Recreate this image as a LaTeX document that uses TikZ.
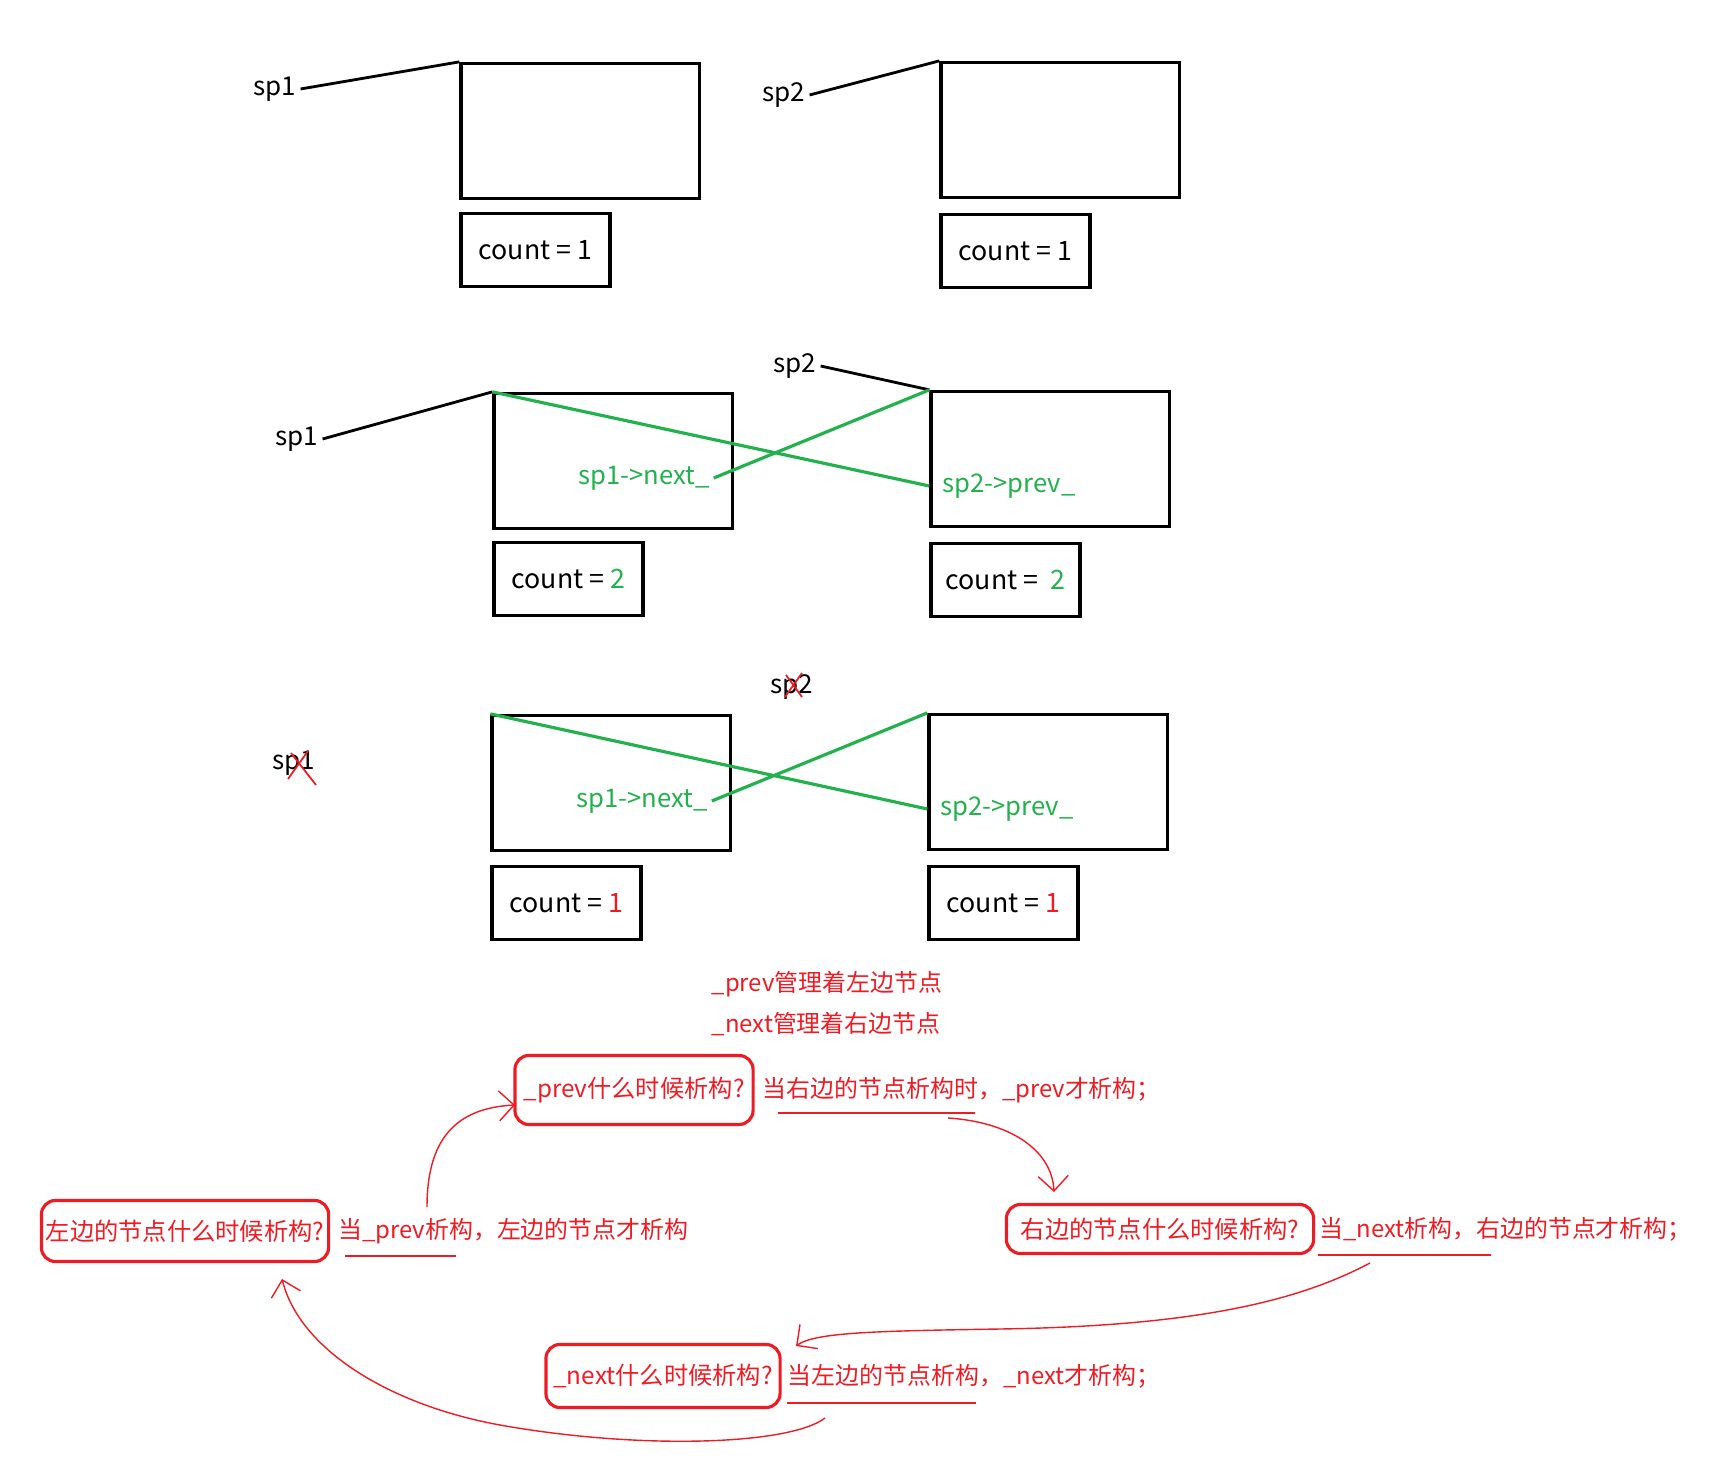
\documentclass[tikz,border=0pt]{standalone}
\usepackage{fontspec}
\setmainfont{Noto Sans CJK SC}
\usetikzlibrary{arrows.meta, positioning}
\definecolor{pgreen}{RGB}{34,177,76}
\definecolor{pred}{RGB}{237,28,36}

\begin{document}
\begin{tikzpicture}[x=0.01cm, y=-0.01cm,
  obj/.style={rectangle, draw=black, line width=0.9pt, minimum width=2.38cm, minimum height=1.35cm},
  cnt/.style={rectangle, draw=black, line width=0.9pt, minimum width=1.49cm, minimum height=0.73cm,
              font=\fontsize{7.6pt}{9pt}\selectfont},
  ptrname/.style={inner sep=1pt, font=\fontsize{7.4pt}{9pt}\selectfont},
  mem/.style={inner sep=1pt, text=pgreen, font=\fontsize{7.3pt}{9pt}\selectfont},
  ptr/.style={line width=0.8pt},
  link/.style={line width=0.9pt, pgreen},
  ques/.style={rectangle, rounded corners=0.14cm, draw=pred, line width=0.9pt, text=pred,
               inner sep=1pt, font=\fontsize{6.9pt}{9pt}\selectfont},
  ans/.style={inner sep=1pt, text=pred, font=\fontsize{6.8pt}{9pt}\selectfont},
  note/.style={inner sep=0pt, text=pred, font=\fontsize{6.8pt}{9pt}\selectfont},
  uline/.style={pred, line width=0.45pt},
  strike/.style={pred, line width=0.5pt},
  flow/.style={-{Straight Barb[length=1.5mm, width=3mm]}, pred, line width=0.4pt}
]
  \useasboundingbox (0,0) rectangle (1716,1474);

  % before: two separate objects
  \node[ptrname] (sp1a) at (275,89) {sp1};
  \node[obj] (objA1) at (580,131) {};
  \node[cnt, below=0.12cm of objA1.south west, anchor=north west] (cntA1) {count = 1};
  \node[ptrname] (sp2a) at (784,95) {sp2};
  \node[obj] (objB1) at (1060,130) {};
  \node[cnt, below=0.14cm of objB1.south west, anchor=north west] (cntB1) {count = 1};
  \draw[ptr] (sp1a.east) -- (objA1.north west);
  \draw[ptr] (sp2a.east) -- (objB1.north west);

  % linked
  \node[ptrname] (sp1b) at (297,439) {sp1};
  \node[obj] (objA2) at (613,461) {};
  \node[cnt, below=0.11cm of objA2.south west, anchor=north west] (cntA2) {count = \textcolor{pgreen}{2}};
  \node[ptrname] (sp2b) at (795,366) {sp2};
  \node[obj] (objB2) at (1050,459) {};
  \node[cnt, below=0.14cm of objB2.south west, anchor=north west] (cntB2) {count = \ \textcolor{pgreen}{2}};
  \node[mem] (nextA2) at (644,478) {sp1->next\_};
  \node[mem] (prevB2) at (1009,486) {sp2->prev\_};
  \draw[ptr] (sp1b.east) -- (objA2.north west);
  \draw[ptr] (sp2b.east) -- (objB2.north west);
  \draw[link] (objA2.north west) -- (objB2.west |- prevB2.west);
  \draw[link] (nextA2.east) -- (objB2.north west);

  % sp1, sp2 gone
  \node[ptrname] (sp1c) at (294,763) {sp1};
  \node[ptrname] (sp2c) at (792,687) {sp2};
  \draw[strike] (288,779) -- (308,751) (291,753) -- (316,785);
  \draw[strike] (785,697) -- (802,673) (786,675) -- (802,697);
  \node[obj] (objA3) at (611,783) {};
  \node[cnt, below=0.13cm of objA3.south west, anchor=north west] (cntA3) {count = \textcolor{pred}{1}};
  \node[obj] (objB3) at (1048,782) {};
  \node[cnt, below=0.14cm of objB3.south west, anchor=north west] (cntB3) {count = \textcolor{pred}{1}};
  \node[mem] (nextA3) at (642,801) {sp1->next\_};
  \node[mem] (prevB3) at (1007,809) {sp2->prev\_};
  \draw[link] (objA3.north west) -- (objB3.west |- prevB3.west);
  \draw[link] (nextA3.east) -- (objB3.north west);

  % notes
  \node[note, anchor=west] (noteprev) at (711,984) {\_prev管理着左边节点};
  \node[note, anchor=west] (notenext) at (711,1024) {\_next管理着右边节点};

  \node[ques, minimum width=2.38cm, minimum height=0.69cm] (qprev) at (634,1090) {\_prev什么时候析构?};
  \node[ans, right=0.04cm of qprev] (aprev) {当右边的节点析构时，\_prev才析构；};
  \node[ques, minimum width=2.87cm, minimum height=0.61cm] (qleft) at (185,1231) {左边的节点什么时候析构?};
  \node[ans, right=0.04cm of qleft] (aleft) {当\_prev析构，左边的节点才析构};
  \node[ques, minimum width=3.07cm, minimum height=0.49cm] (qright) at (1160,1229) {右边的节点什么时候析构?};
  \node[ans, right=0cm of qright] (aright) {当\_next析构，右边的节点才析构；};
  \node[ques, minimum width=2.34cm, minimum height=0.63cm] (qnext) at (663,1376) {\_next什么时候析构?};
  \node[ans, right=0.02cm of qnext] (anext) {当左边的节点析构，\_next才析构；};

  \draw[uline] (778,1113) -- (975,1113);
  \draw[uline] (345,1256) -- (456,1256);
  \draw[uline] (1318,1255) -- (1491,1255);
  \draw[uline] (787,1403) -- (976,1403);

  % cycle
  \coordinate (f1s) at (427,1207);
  \coordinate (f1e) at (515,1105);
  \coordinate (f2s) at (948,1118);
  \coordinate (f2e) at (1054,1192);
  \coordinate (f3s) at (1370,1263);
  \coordinate (f3e) at (796,1346);
  \coordinate (f4s) at (825,1418);
  \coordinate (f4e) at (282,1279);
  \draw[flow] (f1s) .. controls (427,1140) and (455,1108) .. (f1e);
  \draw[flow] (f2s) .. controls (1010,1122) and (1052,1150) .. (f2e);
  \draw[flow] (f3s) .. controls (1300,1300) and (1200,1326) .. (1000,1329)
              .. controls (880,1331) and (815,1332) .. (f3e);
  \draw[flow] (f4s) .. controls (790,1445) and (640,1450) .. (500,1425)
              .. controls (390,1405) and (300,1350) .. (f4e);
\end{tikzpicture}
\end{document}
